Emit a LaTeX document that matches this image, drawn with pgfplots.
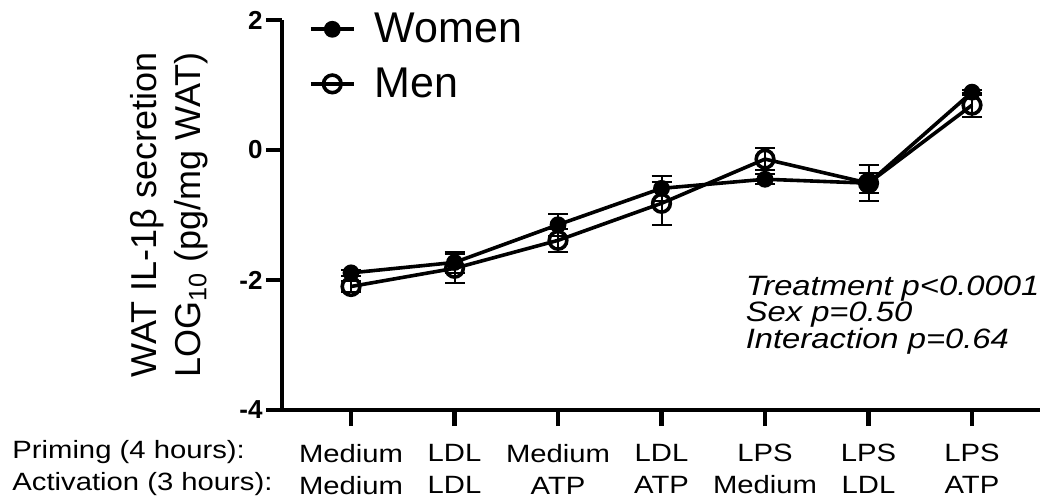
\documentclass[border=0pt]{standalone}
\usepackage{fontspec}
\setmainfont{Liberation Sans}
\newfontfamily\stretchfont[FakeStretch=1.17]{Liberation Sans}
\newfontface\tickbf{Liberation Sans Bold}
\usepackage{pgfplots}
\usepackage{pgfplotstable}
\pgfplotsset{compat=1.18}

\pgfplotstableread{
x y e
0 -1.89 0.05
1 -1.73 0.16
2 -1.15 0.17
3 -0.59 0.19
4 -0.45 0.08
5 -0.51 0.15
6 0.89 0.04
}\women

\pgfplotstableread{
x y e
0 -2.10 0.08
1 -1.82 0.22
2 -1.39 0.18
3 -0.82 0.33
4 -0.14 0.17
5 -0.51 0.28
6 0.69 0.18
}\men

\newcommand{\ytl}[1]{{\tickbf\fontsize{13}{13}\selectfont #1}}

\begin{document}
\begin{tikzpicture}
\begin{axis}[
  at={(0,0)}, anchor=south west,
  scale only axis,
  width=379pt, height=195pt,
  xmin=-0.667, xmax=6.657,
  ymin=-4, ymax=2,
  axis x line*=bottom, axis y line*=left,
  axis line style={line width=2pt, -},
  tick align=outside,
  major tick length=8pt,
  tick style={line width=2.2pt, black},
  xtick={0,1,2,3,4,5,6},
  xticklabels={Medium\\Medium, LDL\\LDL, Medium\\ATP, LDL\\ATP, LPS\\Medium, LPS\\LDL, LPS\\ATP},
  xticklabel style={font=\stretchfont\fontsize{12.5}{16}\selectfont, align=center, inner sep=0pt, anchor=north, yshift=-9pt},
  ytick={-4,-2,0,2},
  yticklabels={\ytl{-4},\ytl{-2},\ytl{0},\ytl{2}},
  yticklabel style={inner sep=0pt, anchor=east, xshift=-1.5pt},
  ylabel={WAT IL-1β secretion\\LOG\textsubscript{10} (pg/mg WAT)},
  ylabel style={font=\fontsize{18}{22}\selectfont, align=center, inner sep=0pt, at={(axis description cs:-0.097,0.5)}, anchor=south, rotate=0},
  clip=false,
  legend style={draw=none, fill=none, inner sep=0pt, outer sep=0pt,
    at={(rel axis cs:0,1)}, anchor=north west, xshift=13.5pt, yshift=3.5pt,
    font=\fontsize{21.5}{21.5}\selectfont, row sep=11pt,
    nodes={inner sep=0pt},
    /tikz/every odd column/.append style={column sep=9.5pt}},
  legend cell align=left,
  legend image code/.code={
    \draw[mark repeat=2, mark phase=2] plot coordinates {(0pt,0pt)(10.75pt,0pt)(21.5pt,0pt)};
  },
]
\addplot[black, line width=1.8pt, mark=*, mark size=3.6pt,
  mark options={solid, fill=black, line width=1.2pt},
  error bars/.cd, y dir=both, y explicit,
  error bar style={line width=1pt, black},
  error mark options={rotate=90, line width=1pt, mark size=5pt, black}]
  table[x=x, y=y, y error=e] {\women};
\addlegendentry{Women}
\addplot[black, line width=1.8pt, mark=o, mark size=4.4pt,
  mark options={solid, line width=1.8pt},
  error bars/.cd, y dir=both, y explicit,
  error bar style={line width=1pt, black},
  error mark options={rotate=90, line width=1pt, mark size=5pt, black}]
  table[x=x, y=y, y error=e] {\men};
\addlegendentry{Men}

\node[anchor=base west, inner sep=0pt, font=\stretchfont\itshape\fontsize{14}{14}\selectfont] at (axis cs:3.81,-2.24) {Treatment p<0.0001};
\node[anchor=base west, inner sep=0pt, font=\stretchfont\itshape\fontsize{14}{14}\selectfont] at (axis cs:3.81,-2.645) {Sex p=0.50};
\node[anchor=base west, inner sep=0pt, font=\stretchfont\itshape\fontsize{14}{14}\selectfont] at (axis cs:3.81,-3.05) {Interaction p=0.64};
\end{axis}
\node[anchor=base west, inner sep=0pt, font=\stretchfont\fontsize{12.5}{16}\selectfont] at (-135pt,-24.5pt) {Priming (4 hours):};
\node[anchor=base west, inner sep=0pt, font=\stretchfont\fontsize{12.5}{16}\selectfont] at (-135pt,-40.5pt) {Activation (3 hours):};
\pgfresetboundingbox
\path[use as bounding box] (-141pt,-46pt) rectangle (380pt,205pt);
\end{tikzpicture}
\end{document}
